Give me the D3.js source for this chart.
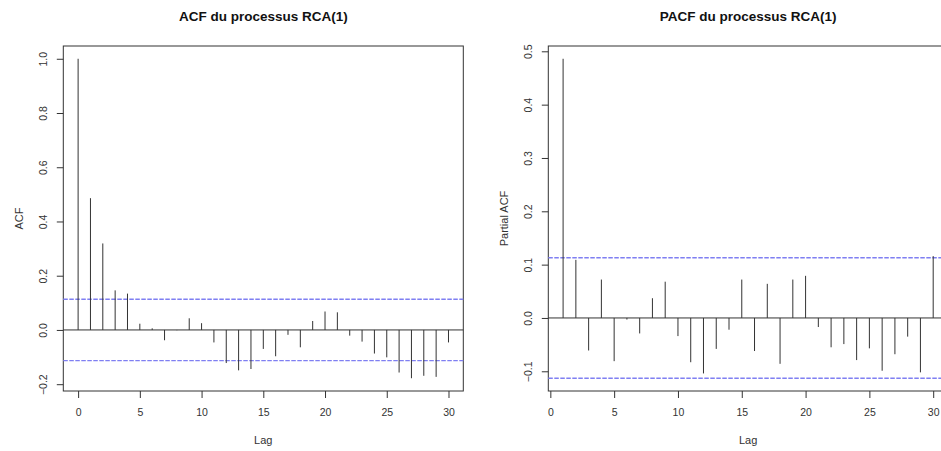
<!DOCTYPE html>
<html>
<head>
<meta charset="utf-8">
<script src="https://cdn.jsdelivr.net/npm/d3@7"></script>
<style>
  body { margin: 0; background: #fff; }
  svg { display: block; font-family: "Liberation Sans", Arial, sans-serif; }
</style>
</head>
<body>
<div id="viz"></div>
<script>
const width = 941;
const height = 451;
const lineColor = '#333';
const ciColor = '#7f7ff2';

// ACF values, lag 0..30
const acfLags = [0, 1, 2, 3, 4, 5, 6, 7, 8, 9, 10, 11, 12, 13, 14, 15, 16, 17, 18, 19, 20, 21, 22, 23, 24, 25, 26, 27, 28, 29, 30];
const acfValues = [1.0, 0.486, 0.319, 0.146, 0.134, 0.023, 0.006, -0.038, -0.001, 0.043, 0.025,
  -0.046, -0.122, -0.149, -0.144, -0.070, -0.097, -0.018, -0.064, 0.033, 0.068,
  0.065, -0.021, -0.043, -0.087, -0.101, -0.157, -0.178, -0.169, -0.173, -0.046];

// PACF values, lag 1..30
const pacfLags = [1, 2, 3, 4, 5, 6, 7, 8, 9, 10, 11, 12, 13, 14, 15, 16, 17, 18, 19, 20, 21, 22, 23, 24, 25, 26, 27, 28, 29, 30];
const pacfValues = [0.486, 0.109, -0.061, 0.072, -0.081, -0.003, -0.029, 0.037, 0.068, -0.034,
  -0.083, -0.104, -0.058, -0.022, 0.072, -0.062, 0.064, -0.086, 0.072, 0.079,
  -0.017, -0.055, -0.049, -0.079, -0.057, -0.099, -0.068, -0.035, -0.102, 0.116];

// Confidence bound (1.96 / sqrt(n))
const clim = 0.113;

const xTicks = [0, 5, 10, 15, 20, 25, 30];
const acfYTicks = [-0.2, 0.0, 0.2, 0.4, 0.6, 0.8, 1.0];
const pacfYTicks = [-0.1, 0.0, 0.1, 0.2, 0.3, 0.4, 0.5];

const svg = d3.select('#viz')
  .append('svg')
    .attr('width', width)
    .attr('height', height);

// R style range: data range extended by 4% on each side
const rRange = (vals) => {
  const lo = d3.min(vals), hi = d3.max(vals);
  const pad = (hi - lo) * 0.04;
  return [lo - pad, hi + pad];
};

const drawPanel = (cfg) => {
  const xScale = d3.scaleLinear()
    .domain(rRange(cfg.lags))
    .range([cfg.left, cfg.right]);
  const yScale = d3.scaleLinear()
    .domain(rRange(cfg.values.concat([clim, -clim])))
    .range([cfg.bottom, cfg.top]);

  const g = svg.append('g');

  // Title
  g.append('text')
      .attr('x', (cfg.left + cfg.right) / 2)
      .attr('y', 21)
      .attr('text-anchor', 'middle')
      .style('font-size', '13.5px')
      .style('font-weight', 700)
      .attr('fill', '#111')
      .text(cfg.title);

  // Box
  g.append('rect')
      .attr('x', cfg.left)
      .attr('y', cfg.top)
      .attr('width', cfg.right - cfg.left)
      .attr('height', cfg.bottom - cfg.top)
      .attr('fill', 'none')
      .attr('stroke', lineColor);

  // x-axis
  const xAxis = d3.axisBottom(xScale)
    .tickValues(xTicks)
    .tickSize(7)
    .tickPadding(10.5);
  const xAxisGroup = g.append('g')
      .attr('transform', `translate(0, ${cfg.bottom})`)
    .call(xAxis);
  xAxisGroup.select('.domain').remove();
  xAxisGroup.selectAll('line').attr('stroke', lineColor);
  xAxisGroup.selectAll('text')
      .style('font-family', '"Liberation Sans", Arial, sans-serif')
      .style('font-size', '10.5px')
      .attr('fill', lineColor);

  // y-axis, labels rotated like R (las = 0)
  const yAxis = d3.axisLeft(yScale)
    .tickValues(cfg.yTicks)
    .tickFormat(d3.format('.1f'))
    .tickSize(6.5);
  const yAxisGroup = g.append('g')
      .attr('transform', `translate(${cfg.left}, 0)`)
    .call(yAxis);
  yAxisGroup.select('.domain').remove();
  yAxisGroup.selectAll('line').attr('stroke', lineColor);
  yAxisGroup.selectAll('text')
      .attr('x', null)
      .attr('dy', null)
      .attr('text-anchor', 'middle')
      .attr('transform', 'translate(-16, 0) rotate(-90)')
      .style('font-family', '"Liberation Sans", Arial, sans-serif')
      .style('font-size', '10.5px')
      .attr('fill', lineColor);

  // Axis titles
  g.append('text')
      .attr('x', (cfg.left + cfg.right) / 2)
      .attr('y', 444)
      .attr('text-anchor', 'middle')
      .style('font-size', '11px')
      .attr('fill', lineColor)
      .text('Lag');
  g.append('text')
      .attr('transform', `translate(${cfg.left - 40}, ${(cfg.top + cfg.bottom) / 2}) rotate(-90)`)
      .attr('text-anchor', 'middle')
      .style('font-size', '11px')
      .attr('fill', lineColor)
      .text(cfg.yLabel);

  // Zero line
  g.append('line')
      .attr('x1', cfg.left)
      .attr('x2', cfg.right)
      .attr('y1', yScale(0))
      .attr('y2', yScale(0))
      .attr('stroke', lineColor);

  // Confidence bounds
  g.selectAll('.ci')
    .data([clim, -clim])
    .join('line')
      .attr('class', 'ci')
      .attr('x1', cfg.left)
      .attr('x2', cfg.right)
      .attr('y1', d => yScale(d))
      .attr('y2', d => yScale(d))
      .attr('stroke', ciColor)
      .attr('stroke-width', 1.4)
      .attr('stroke-dasharray', '4.5,1.5');

  // Spikes
  g.selectAll('.spike')
    .data(cfg.lags.map((lag, i) => ({lag, value: cfg.values[i]})))
    .join('line')
      .attr('class', 'spike')
      .attr('x1', d => xScale(d.lag))
      .attr('x2', d => xScale(d.lag))
      .attr('y1', yScale(0))
      .attr('y2', d => yScale(d.value))
      .attr('stroke', lineColor);
};

drawPanel({
  lags: acfLags, values: acfValues, yTicks: acfYTicks,
  title: 'ACF du processus RCA(1)', yLabel: 'ACF',
  left: 63.3, right: 463.3, top: 46, bottom: 391
});

drawPanel({
  lags: pacfLags, values: pacfValues, yTicks: pacfYTicks,
  title: 'PACF du processus RCA(1)', yLabel: 'Partial ACF',
  left: 548.3, right: 948, top: 46, bottom: 391
});
</script>
</body>
</html>
